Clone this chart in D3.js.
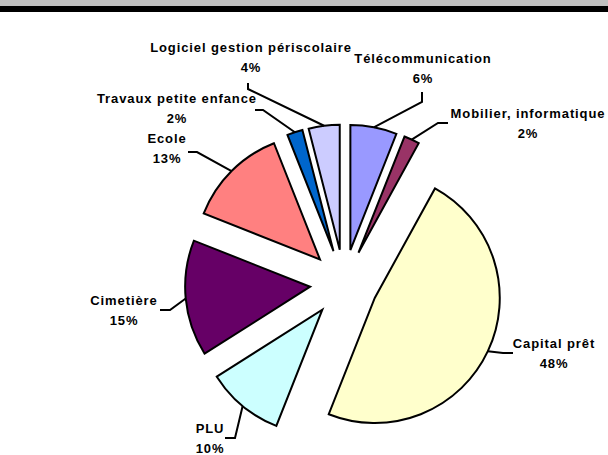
<!DOCTYPE html>
<html>
<head>
<meta charset="utf-8">
<script src="https://cdn.jsdelivr.net/npm/d3@7"></script>
<style>
  body { margin: 0; background: #fff; }
  svg { display: block; }
  .lbl { font-family: "Liberation Sans", Arial, sans-serif; font-weight: bold; font-size: 13px; letter-spacing: 0.9px; fill: #000; }
</style>
</head>
<body>
<svg id="chart"></svg>
<script>
// data (percent of total)
const categories = ["Télécommunication", "Mobilier, informatique", "Capital prêt", "PLU", "Cimetière", "Ecole", "Travaux petite enfance", "Logiciel gestion périscolaire"];
const values = [6, 2, 48, 10, 15, 13, 2, 4];
const sliceColors = ["#9999ff", "#993366", "#ffffcc", "#ccffff", "#660066", "#ff8080", "#0066cc", "#ccccff"];

// labels were dragged by hand in the sheet, so keep their spots separately
const labelCx = [423, 528, 554, 210, 124, 167, 177, 251];
const labelCy = [72.5, 127.5, 357.5, 443, 315, 152.5, 113, 62];
// where each leader line reaches the label (bend point, then end point)
const leaderBend = [[422, 102], [438, 123], [503, 353], [235, 438], [170, 310], [197, 152], [263, 110], [248, 89]];
const leaderEnd = [[422, 92], [448, 123], [513, 353], [225, 438], [160, 310], [188, 152], [255, 110], [248, 83]];

class ExplodedPie {
  constructor(_config, _data) {
    this.config = {
      parentElement: _config.parentElement,
      containerWidth: _config.containerWidth || 608,
      containerHeight: _config.containerHeight || 455,
      cx: 344, cy: 283.5,
      radius: 125,
      explode: 34
    };
    this.data = _data;
    this.initVis();
  }

  initVis() {
    let vis = this;

    vis.svg = d3.select(vis.config.parentElement)
        .attr('width', vis.config.containerWidth)
        .attr('height', vis.config.containerHeight);

    // grey + black band on top of the sheet
    vis.svg.append('rect').attr('x', 0).attr('y', 0)
        .attr('width', vis.config.containerWidth).attr('height', 6).attr('fill', '#c0c0c0');
    vis.svg.append('rect').attr('x', 0).attr('y', 6)
        .attr('width', vis.config.containerWidth).attr('height', 6).attr('fill', '#000');

    vis.chart = vis.svg.append('g')
        .attr('transform', `translate(${vis.config.cx},${vis.config.cy})`);

    vis.pie = d3.pie().sort(null).value(d => d.value).startAngle(0).endAngle(2 * Math.PI);
    vis.arc = d3.arc().innerRadius(0).outerRadius(vis.config.radius);
    // point on the outer edge of an exploded slice, at its middle angle
    vis.edgeArc = d3.arc()
        .innerRadius(vis.config.radius + vis.config.explode)
        .outerRadius(vis.config.radius + vis.config.explode);

    vis.renderVis();
  }

  renderVis() {
    let vis = this;
    const arcs = vis.pie(vis.data);
    const shift = d => {
      const a = (d.startAngle + d.endAngle) / 2;
      return [Math.sin(a) * vis.config.explode, -Math.cos(a) * vis.config.explode];
    };

    vis.chart.selectAll('.slice')
      .data(arcs)
      .join('path')
        .attr('class', 'slice')
        .attr('d', vis.arc)
        .attr('transform', d => `translate(${shift(d)[0]},${shift(d)[1]})`)
        .attr('fill', d => d.data.color)
        .attr('stroke', '#000')
        .attr('stroke-width', 2)
        .attr('stroke-linejoin', 'miter');

    // leader lines
    vis.chart.selectAll('.leader')
      .data(arcs)
      .join('polyline')
        .attr('class', 'leader')
        .attr('fill', 'none')
        .attr('stroke', '#000')
        .attr('stroke-width', 2)
        .attr('points', (d, i) => {
          const p = vis.edgeArc.centroid(d);
          const b = [leaderBend[i][0] - vis.config.cx, leaderBend[i][1] - vis.config.cy];
          const e = [leaderEnd[i][0] - vis.config.cx, leaderEnd[i][1] - vis.config.cy];
          return [p, b, e].map(q => q.join(',')).join(' ');
        });

    // labels: name on one line, percent below
    const lbl = vis.svg.selectAll('.lbl')
      .data(arcs)
      .join('text')
        .attr('class', 'lbl')
        .attr('text-anchor', 'middle');
    lbl.append('tspan')
        .attr('x', (d, i) => labelCx[i])
        .attr('y', (d, i) => labelCy[i] - 10)
        .text(d => d.data.name);
    lbl.append('tspan')
        .attr('x', (d, i) => labelCx[i])
        .attr('y', (d, i) => labelCy[i] + 10)
        .text(d => d3.format('.0%')(d.data.value / d3.sum(vis.data, v => v.value)));
  }
}

const rows = categories.map((c, i) => ({ name: c, value: values[i], color: sliceColors[i] }));
new ExplodedPie({ parentElement: '#chart' }, rows);
</script>
</body>
</html>
